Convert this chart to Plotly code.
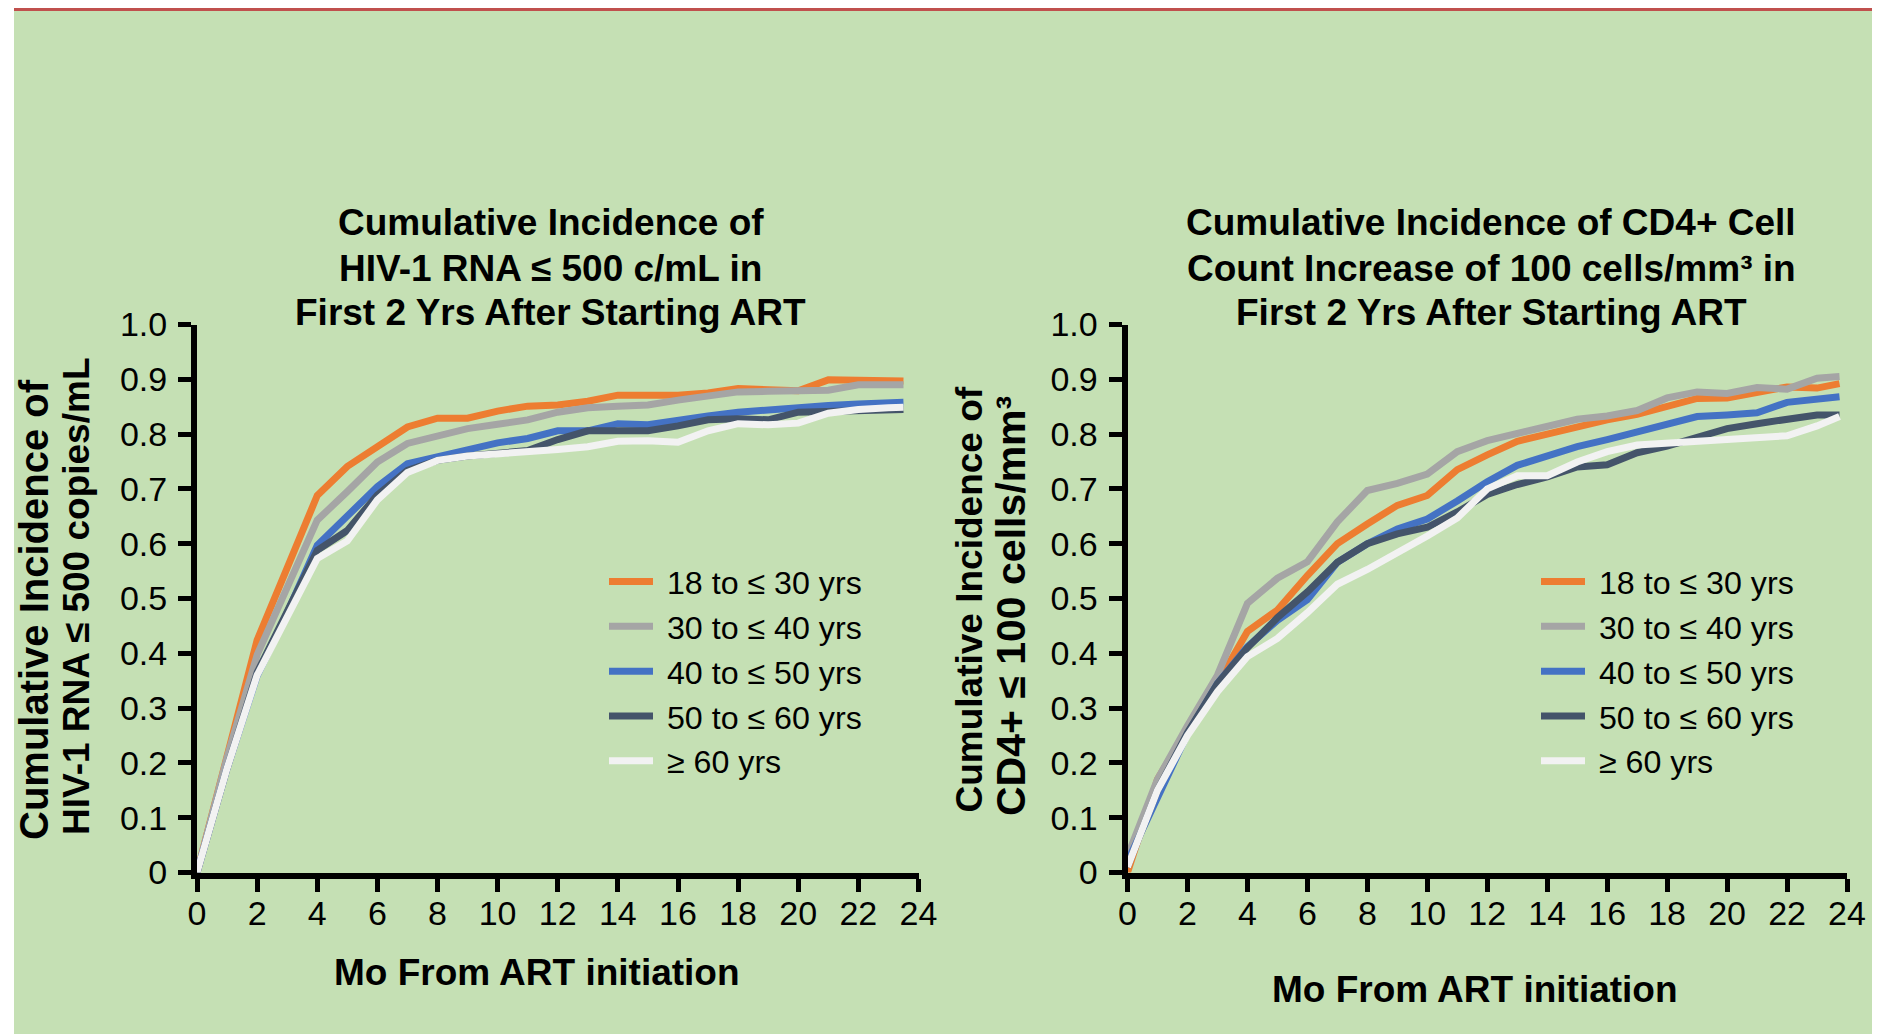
import plotly.graph_objects as go

# ---------------- data ----------------
groups = ["18 to ≤ 30 yrs", "30 to ≤ 40 yrs", "40 to ≤ 50 yrs", "50 to ≤ 60 yrs", "≥ 60 yrs"]
colors = ["#ED7D31", "#A5A5A5", "#4472C4", "#44546A", "#F2F2F2"]

months_rna = [0, 1, 2, 3, 4, 5, 6, 7, 8, 9, 10, 11, 12, 13, 14, 15, 16, 17, 18, 19, 20, 21, 22, 23, 23.5]
rna_18_30 = [0, 0.21, 0.424, 0.556, 0.688, 0.741, 0.777, 0.813, 0.829, 0.829, 0.842, 0.851, 0.853, 0.860,
             0.871, 0.871, 0.871, 0.875, 0.883, 0.881, 0.879, 0.899, 0.898, 0.897, 0.897]
rna_30_40 = [0, 0.21, 0.397, 0.52, 0.643, 0.695, 0.749, 0.783, 0.798, 0.810, 0.818, 0.826, 0.840, 0.848,
             0.851, 0.853, 0.862, 0.868, 0.877, 0.878, 0.879, 0.880, 0.890, 0.890, 0.890]
rna_40_50 = [0, 0.19, 0.359, 0.474, 0.597, 0.649, 0.704, 0.746, 0.758, 0.772, 0.784, 0.792, 0.806, 0.806,
             0.819, 0.817, 0.826, 0.833, 0.840, 0.845, 0.850, 0.852, 0.855, 0.857, 0.858]
rna_50_60 = [0, 0.19, 0.365, 0.48, 0.588, 0.624, 0.689, 0.734, 0.752, 0.760, 0.766, 0.770, 0.790, 0.806,
             0.806, 0.806, 0.815, 0.826, 0.828, 0.826, 0.840, 0.842, 0.843, 0.845, 0.845]
rna_60 = [0, 0.19, 0.36, 0.47, 0.573, 0.605, 0.680, 0.730, 0.752, 0.760, 0.763, 0.766, 0.772, 0.777,
          0.787, 0.788, 0.785, 0.806, 0.819, 0.817, 0.820, 0.838, 0.845, 0.848, 0.849]

months_cd4 = [0, 1, 2, 3, 4, 5, 6, 7, 8, 9, 10, 11, 12, 13, 14, 15, 16, 17, 18, 19, 20, 21, 22, 23, 23.75]
cd4_18_30 = [0.0, 0.17, 0.262, 0.345, 0.44, 0.479, 0.542, 0.600, 0.636, 0.670, 0.688, 0.735, 0.762, 0.787,
             0.800, 0.814, 0.826, 0.836, 0.851, 0.865, 0.866, 0.876, 0.886, 0.884, 0.892]
cd4_30_40 = [0.03, 0.17, 0.268, 0.36, 0.491, 0.537, 0.567, 0.640, 0.697, 0.710, 0.727, 0.768, 0.788, 0.800,
             0.814, 0.827, 0.833, 0.843, 0.866, 0.877, 0.874, 0.885, 0.882, 0.902, 0.905]
cd4_40_50 = [0.02, 0.14, 0.253, 0.345, 0.412, 0.460, 0.498, 0.566, 0.600, 0.627, 0.645, 0.678, 0.713, 0.743,
             0.760, 0.777, 0.790, 0.803, 0.818, 0.832, 0.835, 0.839, 0.858, 0.864, 0.868]
cd4_50_60 = [0.01, 0.15, 0.255, 0.345, 0.410, 0.465, 0.512, 0.566, 0.600, 0.618, 0.630, 0.658, 0.690, 0.708,
             0.722, 0.740, 0.744, 0.766, 0.778, 0.795, 0.810, 0.819, 0.828, 0.835, 0.835]
cd4_60 = [0.01, 0.15, 0.25, 0.33, 0.394, 0.427, 0.474, 0.526, 0.553, 0.582, 0.614, 0.647, 0.700, 0.724,
          0.724, 0.749, 0.768, 0.780, 0.783, 0.786, 0.792, 0.794, 0.797, 0.815, 0.832]

x_ticks = list(range(0, 25, 2))
y_ticks = [i / 10 for i in range(11)]
y_ticktext = ["0", "0.1", "0.2", "0.3", "0.4", "0.5", "0.6", "0.7", "0.8", "0.9", "1.0"]

title_rna = ["Cumulative Incidence of", "HIV-1 RNA ≤ 500 c/mL in", "First 2 Yrs After Starting ART"]
title_cd4 = ["Cumulative Incidence of CD4+ Cell", "Count Increase of 100 cells/mm³ in",
             "First 2 Yrs After Starting ART"]
ytitle_rna = ["Cumulative Incidence of", "HIV-1 RNA ≤ 500 copies/mL"]
ytitle_cd4 = ["Cumulative Incidence of", "CD4+ ≤ 100 cells/mm³"]
xtitle = "Mo From ART initiation"

rna_series = [rna_18_30, rna_30_40, rna_40_50, rna_50_60, rna_60]
cd4_series = [cd4_18_30, cd4_30_40, cd4_40_50, cd4_50_60, cd4_60]

# ---------------- layout geometry ----------------
W, H = 1872, 1026
FONT = "Liberation Sans, Arial, sans-serif"
BG = "#C5E0B4"


def px(x):
    return x / W


def py(y):
    return 1 - y / H


fig = go.Figure()

for name, col, ys in zip(groups, colors, rna_series):
    fig.add_trace(go.Scatter(x=months_rna, y=ys, mode="lines", name="\u00a0" + name,
                             line=dict(color=col, width=7), xaxis="x", yaxis="y",
                             legend="legend"))
for name, col, ys in zip(groups, colors, cd4_series):
    fig.add_trace(go.Scatter(x=months_cd4, y=ys, mode="lines", name="\u00a0" + name,
                             line=dict(color=col, width=7), xaxis="x2", yaxis="y2",
                             legend="legend2"))

axis_common = dict(showline=True, linewidth=6, linecolor="black", ticks="outside",
                   ticklen=13, tickwidth=5, tickcolor="black", showgrid=False,
                   zeroline=False, automargin=False,
                   tickfont=dict(family=FONT, size=34, color="black"))

ydom = [py(864.5), py(316.5)]
fig.update_layout(
    width=W, height=H, template="none",
    margin=dict(l=0, r=0, t=0, b=0, pad=0),
    paper_bgcolor=BG, plot_bgcolor="rgba(0,0,0,0)",
    font=dict(family=FONT, color="black"),
    xaxis=dict(domain=[px(189), px(910.5)], range=[0, 24], tickvals=x_ticks, anchor="y",
               ticklabelstandoff=-7, **axis_common),
    yaxis=dict(domain=ydom, range=[0, 1], tickvals=y_ticks, ticktext=y_ticktext, anchor="x",
               ticklabelstandoff=4, **axis_common),
    xaxis2=dict(domain=[px(1119.5), px(1839)], range=[0, 24], tickvals=x_ticks, anchor="y2",
                ticklabelstandoff=-7, **axis_common),
    yaxis2=dict(domain=ydom, range=[0, 1], tickvals=y_ticks, ticktext=y_ticktext, anchor="x2",
                ticklabelstandoff=4, **axis_common),
    legend=dict(x=px(596), y=py(546), xanchor="left", yanchor="top", bgcolor="rgba(0,0,0,0)",
                font=dict(family=FONT, size=32.2, color="black"), itemwidth=44,
                tracegroupgap=0),
    legend2=dict(x=px(1528), y=py(546), xanchor="left", yanchor="top", bgcolor="rgba(0,0,0,0)",
                 font=dict(family=FONT, size=32.2, color="black"), itemwidth=44,
                 tracegroupgap=0),
    showlegend=True,
)


def bold(size):
    return dict(family=FONT, size=size, color="black")


ann = []
title_y = [215, 260, 304.5]
for txt, yy in zip(title_rna, title_y):
    ann.append(dict(text="<b>" + txt + "</b>", x=px(542.5), y=py(yy), xref="paper", yref="paper",
                    xanchor="center", yanchor="middle", showarrow=False, font=bold(37)))
for txt, yy in zip(title_cd4, title_y):
    ann.append(dict(text="<b>" + txt + "</b>", x=px(1483), y=py(yy), xref="paper", yref="paper",
                    xanchor="center", yanchor="middle", showarrow=False, font=bold(37)))
ann.append(dict(text="<b>" + xtitle + "</b>", x=px(528.5), y=py(964), xref="paper", yref="paper",
                xanchor="center", yanchor="middle", showarrow=False, font=bold(37)))
ann.append(dict(text="<b>" + xtitle + "</b>", x=px(1467), y=py(981), xref="paper", yref="paper",
                xanchor="center", yanchor="middle", showarrow=False, font=bold(37)))
for txt, xx, yy, fs in [(ytitle_rna[0], 26, 602, 40), (ytitle_rna[1], 68, 589, 37),
                        (ytitle_cd4[0], 961, 591.5, 37), (ytitle_cd4[1], 1003, 598, 41)]:
    ann.append(dict(text="<b>" + txt + "</b>", x=px(xx), y=py(yy), xref="paper", yref="paper",
                    xanchor="center", yanchor="middle", textangle=-90, showarrow=False, font=bold(fs)))
fig.update_layout(annotations=ann)

fig.update_layout(shapes=[
    dict(type="rect", xref="paper", yref="paper", x0=0, x1=px(6), y0=0, y1=1,
         fillcolor="white", line=dict(width=0), layer="below"),
    dict(type="rect", xref="paper", yref="paper", x0=px(6), x1=1, y0=py(3), y1=1,
         fillcolor="#C0504D", line=dict(width=0), layer="below"),
])

fig.write_html("out.html")
